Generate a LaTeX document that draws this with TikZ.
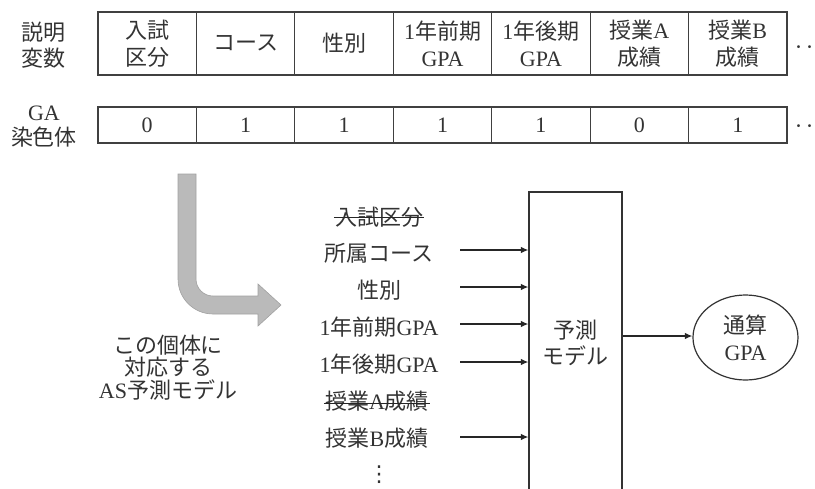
\documentclass[tikz,border=0pt]{standalone}
\usepackage{fontspec}
\setmainfont{Noto Sans CJK JP}
\newfontfamily\lat{Liberation Serif}
\newfontfamily\dvs{DejaVu Sans}
\usetikzlibrary{arrows.meta,shapes.geometric,calc}
\begin{document}
\begin{tikzpicture}[x=1pt,y=-1pt,
  txt/.style={font=\fontsize{22}{27}\selectfont, text=black!80, align=center, inner sep=0pt},
  cell/.style={txt, draw=black!75, line width=1.2pt, minimum width=98.43pt, outer sep=0pt},
  hcell/.style={cell, minimum height=63pt},
  lcell/.style={cell, minimum height=36pt},
  item/.style={txt},
  arr/.style={-{Latex[length=7.5pt,width=6.5pt]}, line width=1.3pt, draw=black!85},
  strike/.style={line width=1pt, draw=black!85},
  bigarrow/.style={fill=black!27, draw=black!37, line width=0.6pt}
]
\useasboundingbox (0,0) rectangle (815,488);
\clip (0,0) rectangle (815,488);

% left labels
\node[txt] (lab1) at (43,45) {説明\\[-1pt]変数};
\node[txt] (lab2) at (44,126.5) {{\lat GA}\\[-2pt]染色体};

% top table
\node[hcell] (v1) at (147.2,43.5) {入試\\区分};
\node[hcell] (v2) at (245.6,43.5) {コース};
\node[hcell] (v3) at (344.1,43.5) {性別};
\node[hcell] (v4) at (442.5,43.5) {{\lat 1}年前期\\{\lat GPA}};
\node[hcell] (v5) at (540.9,43.5) {{\lat 1}年後期\\{\lat GPA}};
\node[hcell] (v6) at (639.4,43.5) {授業{\lat A}\\成績};
\node[hcell] (v7) at (737.8,43.5) {授業{\lat B}\\成績};
\node[txt] (vd) at (804,51) {‥};

% chromosome row
\node[lcell] (g1) at (147.2,125) {\lat 0};
\node[lcell] (g2) at (245.6,125) {\lat 1};
\node[lcell] (g3) at (344.1,125) {\lat 1};
\node[lcell] (g4) at (442.5,125) {\lat 1};
\node[lcell] (g5) at (540.9,125) {\lat 1};
\node[lcell] (g6) at (639.4,125) {\lat 0};
\node[lcell] (g7) at (737.8,125) {\lat 1};
\node[txt] (gd) at (804,130) {‥};

% big gray arrow
\path[bigarrow] (178,174) -- (178,279) arc[start angle=180, end angle=90, radius=35]
  -- (258,314) -- (258,326) -- (281,305) -- (258,284) -- (258,296) -- (213,296)
  arc[start angle=90, end angle=180, radius=17] -- (196,174) -- cycle;

% left text
\node[txt] (desc) at (168,367.5) {この個体に\\[-4.5pt]対応する\\[-4.5pt]{\lat AS}予測モデル};

% variable list
\node[item] (i1) at (379,217) {入試区分};
\node[item] (i2) at (379,253) {所属コース};
\node[item] (i3) at (379,290) {性別};
\node[item] (i4) at (379,327) {{\lat 1}年前期{\lat GPA}};
\node[item] (i5) at (379,364) {{\lat 1}年後期{\lat GPA}};
\node[item] (i6) at (377,401.5) {授業{\lat A}成績};
\node[item] (i7) at (377,438.5) {授業{\lat B}成績};
\node[txt] (i8) at (379,475) {\dvs ⋮};

\draw[strike] ([xshift=-1pt]i1.west) -- ([xshift=1pt]i1.east);
\draw[strike] ([xshift=-1pt,yshift=-2pt]i6.west) -- ([xshift=1pt,yshift=-2pt]i6.east);

% model box
\node[txt, draw=black!80, line width=1.2pt, minimum width=93pt, minimum height=302pt] (model) at (575.5,343) {予測\\[-1pt]モデル};

\coordinate (src) at (460,0);
\draw[arr] ($(i2 -| src)+(0,-3)$) -- ($(i2 -| model.west)+(0,-3)$);
\draw[arr] ($(i3 -| src)+(0,-3)$) -- ($(i3 -| model.west)+(0,-3)$);
\draw[arr] ($(i4 -| src)+(0,-3)$) -- ($(i4 -| model.west)+(0,-3)$);
\draw[arr] ($(i5 -| src)+(0,-2)$) -- ($(i5 -| model.west)+(0,-2)$);
\draw[arr] ($(i7 -| src)+(0,-1.5)$) -- ($(i7 -| model.west)+(0,-1.5)$);

% output
\node[txt, ellipse, draw=black!80, line width=1.2pt, minimum width=105pt, minimum height=85pt] (gpa) at (745.5,337.5) {通算\\{\lat GPA}};
\draw[arr] ($(gpa -| model.east)+(0,-1.5)$) -- ($(gpa.west)+(0,-1.5)$);
\end{tikzpicture}
\end{document}
